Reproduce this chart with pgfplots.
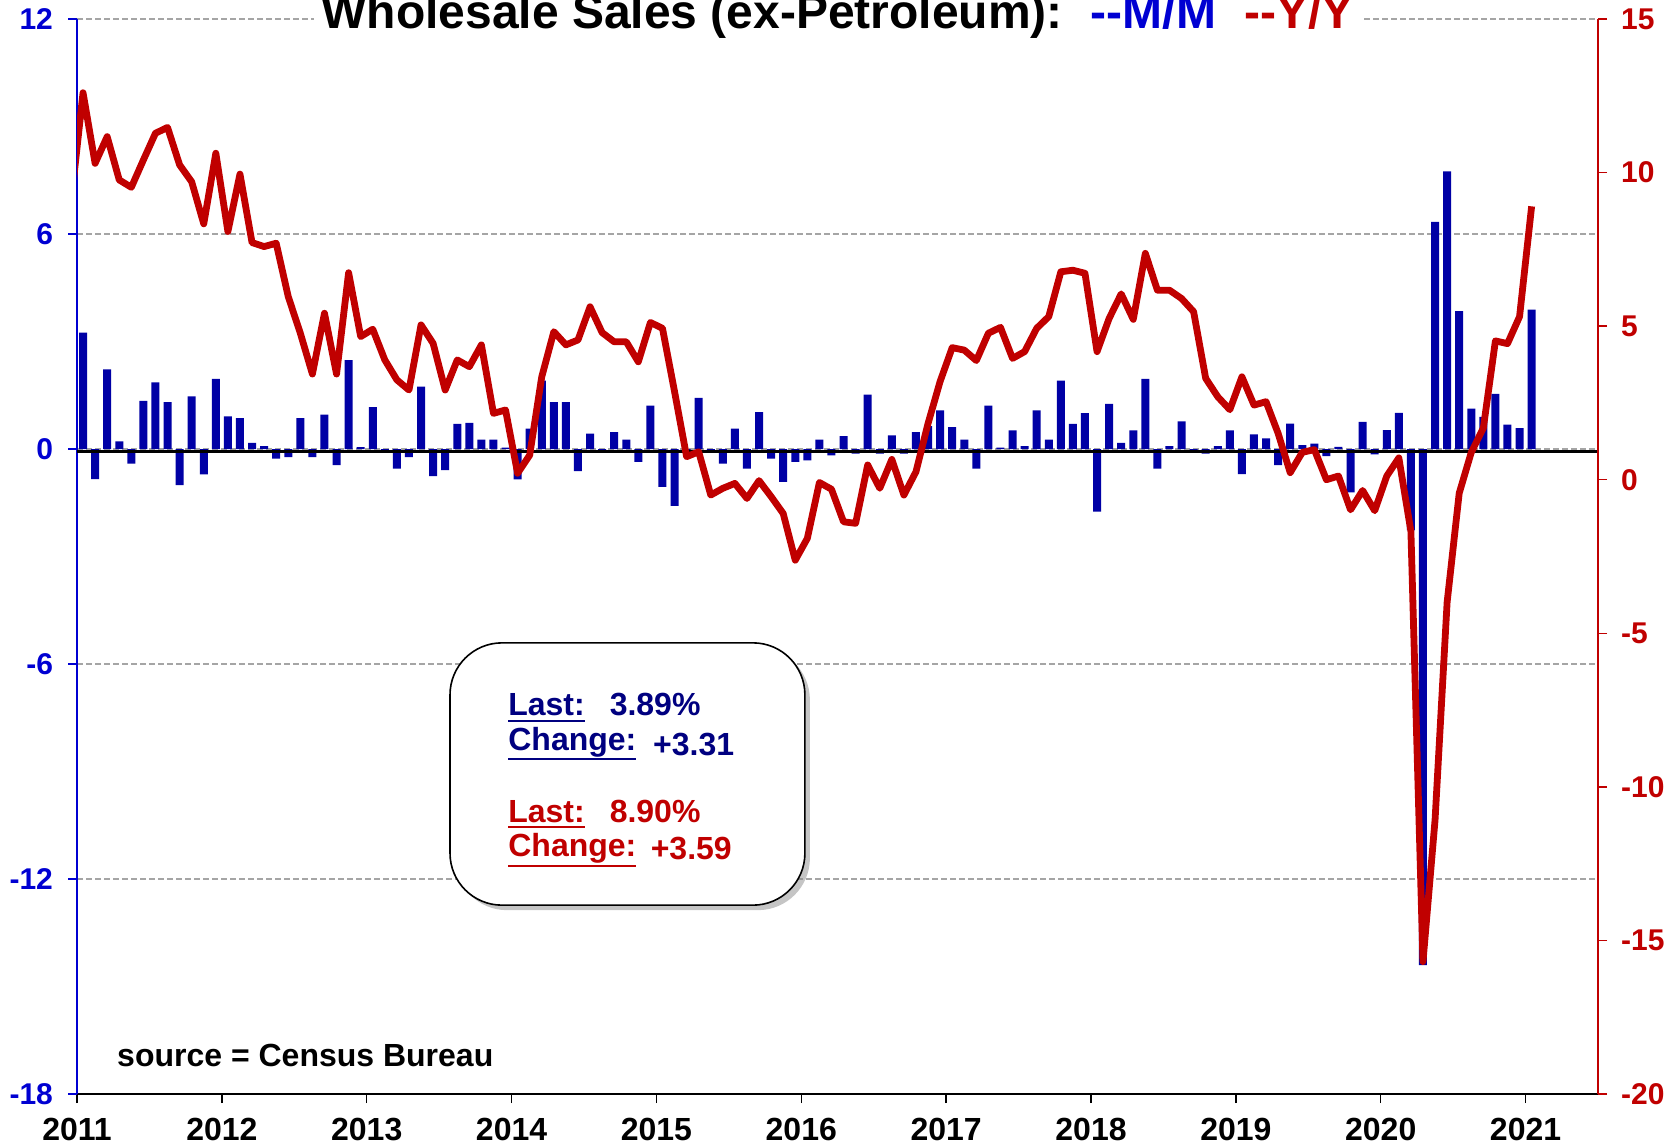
\documentclass[border=0pt]{standalone}
\usepackage{fontspec}
\setmainfont{Liberation Sans}
\usepackage{pgfplots}
\usepackage{pgfplotstable}
\pgfplotsset{compat=1.18}
\usetikzlibrary{calc,shadows}

\definecolor{barblue}{RGB}{0,0,165}
\definecolor{axblue}{RGB}{0,0,210}
\definecolor{navy}{RGB}{0,0,128}
\definecolor{linered}{RGB}{192,0,0}
\definecolor{gridgray}{RGB}{165,165,165}

% underline with a thicker rule: [depth]{text}
\newcommand\ul[2][-3pt]{\setbox0\hbox{#2}\rlap{\rule[#1]{\wd0}{1.1pt}}\box0}

% m = month index (0 = Jan 2011), mm = M/M % (left), yy = Y/Y % (right)
\pgfplotstableread{
m mm yy
-1 nan 9.00
0 3.25 12.60
1 -0.84 10.30
2 2.22 11.17
3 0.21 9.76
4 -0.41 9.52
5 1.34 10.41
6 1.86 11.28
7 1.31 11.47
8 -1.01 10.25
9 1.47 9.70
10 -0.71 8.33
11 1.96 10.63
12 0.91 8.08
13 0.86 9.95
14 0.17 7.72
15 0.08 7.59
16 -0.27 7.70
17 -0.23 5.96
18 0.86 4.77
19 -0.23 3.44
20 0.96 5.42
21 -0.45 3.44
22 2.48 6.74
23 0.05 4.66
24 1.17 4.90
25 -0.10 3.90
26 -0.55 3.25
27 -0.23 2.92
28 1.74 5.04
29 -0.76 4.44
30 -0.59 2.92
31 0.70 3.90
32 0.73 3.68
33 0.26 4.39
34 0.26 2.16
35 0.04 2.27
36 -0.85 0.21
37 0.57 0.80
38 1.91 3.35
39 1.31 4.82
40 1.31 4.39
41 -0.62 4.55
42 0.43 5.63
43 -0.10 4.79
44 0.47 4.49
45 0.26 4.49
46 -0.36 3.84
47 1.21 5.12
48 -1.06 4.93
49 -1.59 2.87
50 -0.05 0.75
51 1.43 0.91
52 -0.10 -0.50
53 -0.41 -0.28
54 0.57 -0.12
55 -0.55 -0.61
56 1.03 -0.03
57 -0.27 -0.55
58 -0.92 -1.10
59 -0.36 -2.62
60 -0.32 -1.91
61 0.26 -0.09
62 -0.18 -0.31
63 0.36 -1.37
64 -0.13 -1.42
65 1.52 0.48
66 -0.13 -0.28
67 0.38 0.66
68 -0.13 -0.50
69 0.47 0.26
70 0.64 1.83
71 1.08 3.20
72 0.61 4.30
73 0.26 4.22
74 -0.55 3.88
75 1.21 4.77
76 0.04 4.96
77 0.52 3.95
78 0.08 4.17
79 1.08 4.93
80 0.26 5.31
81 1.91 6.77
82 0.70 6.82
83 1.00 6.72
84 -1.75 4.17
85 1.26 5.25
86 0.17 6.05
87 0.52 5.22
88 1.96 7.37
89 -0.55 6.17
90 0.08 6.17
91 0.77 5.90
92 -0.08 5.47
93 -0.13 3.30
94 0.08 2.70
95 0.52 2.28
96 -0.70 3.35
97 0.41 2.43
98 0.30 2.54
99 -0.45 1.51
100 0.71 0.23
101 0.11 0.89
102 0.15 0.98
103 -0.20 0.00
104 0.06 0.12
105 -1.21 -0.98
106 0.76 -0.35
107 -0.15 -1.01
108 0.53 0.12
109 1.01 0.71
110 -2.27 -1.68
111 -14.40 -15.69
112 6.34 -11.08
113 7.75 -3.99
114 3.85 -0.44
115 1.13 0.89
116 0.90 1.68
117 1.54 4.52
118 0.68 4.43
119 0.58 5.31
120 3.89 8.90
}\wsdata

\pgfplotsset{
  base/.style={
    scale only axis,
    width=760.5pt, height=537.5pt,
    xmin=-0.5, xmax=125.5,
    tick align=outside,
    major tick length=4.5pt,
  },
}

\begin{document}
\begin{tikzpicture}
% left axis: M/M bars
\begin{axis}[
    base,
    name=left,
    ymin=-18, ymax=12,
    ytick={-18,-12,-6,0,6,12},
    yticklabels={-18,-12,-6,0,6,12},
    axis y line*=left,
    axis x line*=bottom,
    xtick={-0.5,11.5,23.5,35.5,47.5,59.5,71.5,83.5,95.5,107.5,119.5},
    xticklabels={2011,2012,2013,2014,2015,2016,2017,2018,2019,2020,2021},
    x axis line style={black, line width=0.8pt},
    y axis line style={axblue, line width=0.7pt},
    xtick style={black, line width=0.7pt},
    ytick style={axblue, line width=0.7pt},
    xticklabel style={font=\fontsize{16}{18}\selectfont\bfseries, text=black, yshift=-4pt},
    yticklabel style={font=\fontsize{15}{17}\selectfont\bfseries, text=axblue, xshift=-4pt},
    ymajorgrids,
    grid style={gridgray, line width=0.6pt, dash pattern=on 3pt off 1.5pt},
  ]
  \addplot[ybar, bar width=4pt, fill=barblue, draw=none] table[x=m, y=mm] {\wsdata};
  \draw[black, line width=1.6pt] (axis cs:-0.5,-0.07) -- (axis cs:125.5,-0.07);

  % summary box
  \draw[rounded corners=26pt, fill=white, line width=0.8pt,
        drop shadow={shadow xshift=2.5pt, shadow yshift=-2.5pt, fill=black!45, opacity=0.5}]
    (axis cs:30.4,-5.41) rectangle (axis cs:59.8,-12.73);
  \begin{scope}[every node/.style={anchor=base west, inner sep=0pt,
      font=\fontsize{16}{18}\selectfont\bfseries}]
    \node[text=navy] at (axis cs:35.2,-7.45) {\ul{Last:}};
    \node[text=navy] at (axis cs:43.6,-7.45) {3.89\%};
    \node[text=navy] at (axis cs:35.2,-8.40) {\ul[-5pt]{Change:}};
    \node[text=navy] at (axis cs:47.2,-8.55) {+3.31};
    \node[text=linered] at (axis cs:35.2,-10.42) {\ul{Last:}};
    \node[text=linered] at (axis cs:43.6,-10.42) {8.90\%};
    \node[text=linered] at (axis cs:35.2,-11.38) {\ul[-5pt]{Change:}};
    \node[text=linered] at (axis cs:47.0,-11.45) {+3.59};
  \end{scope}
  \node[anchor=base west, inner sep=0pt, font=\fontsize{16}{18}\selectfont\bfseries]
    at (axis cs:2.8,-17.22) {source = Census Bureau};
\end{axis}

% right axis: Y/Y line
\begin{axis}[
    base,
    ymin=-20, ymax=15,
    ytick={-20,-15,-10,-5,0,5,10,15},
    yticklabels={-20,-15,-10,-5,0,5,10,15},
    axis y line*=right,
    axis x line=none,
    y axis line style={linered, line width=0.7pt},
    ytick style={linered, line width=0.7pt},
    yticklabel style={font=\fontsize{15}{17}\selectfont\bfseries, text=linered, xshift=3.5pt},
  ]
  \addplot[linered, line width=3.4pt, line join=round] table[x=m, y=yy] {\wsdata};
\end{axis}

% title sits on the top gridline
\node[anchor=base, fill=white, inner xsep=3.5pt, inner ysep=1pt,
      font=\fontsize{24}{26}\selectfont\bfseries]
  at ($(left.north)+(0,-5pt)$)
  {Wholesale Sales (ex-Petroleum):\hspace{14pt}\textcolor{axblue}{-{}-M/M}\hspace{14pt}\textcolor{linered}{-{}-Y/Y}};

\pgfresetboundingbox
\path[use as bounding box] ($(left.south west)+(-38.5pt,-26pt)$) rectangle ($(left.north east)+(40.5pt,9.5pt)$);
\end{tikzpicture}
\end{document}
